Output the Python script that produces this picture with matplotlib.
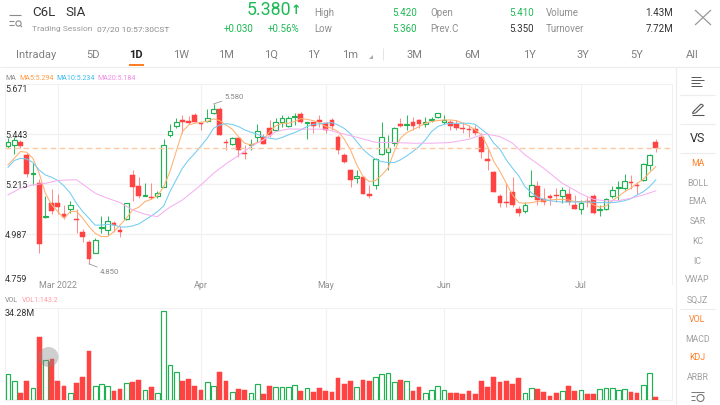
import matplotlib
matplotlib.use("Agg")
import matplotlib.pyplot as plt
from matplotlib.patches import Rectangle, Circle

plt.rcParams['font.family'] = ['Roboto', 'DejaVu Sans']

# ---- data ----
up = [1,1,0,0,1,0,1,0,0,0,1,0,0,0,1,1,1,0,0,1,0,0,1,0,1,1,1,1,
      0,0,0,0,1,1,0,0,1,0,0,1,1,0,0,1,1,1,1,0,1,0,0,0,0,0,0,
      0,1,0,0,1,1,1,1,0,1,0,0,1,1,1,1,0,0,0,0,0,0,0,0,0,0,0,0,
      1,1,0,0,0,0,1,0,0,1,0,0,1,1,1,1,1,0,0,1,1,0]
high = [5.427,5.431,5.416,5.355,5.310,5.237,5.161,5.191,5.170,5.120,5.139,5.100,5.009,4.960,4.968,5.069,5.069,5.048,5.024,5.130,5.279,5.249,5.218,5.218,5.185,5.419,5.489,5.516,
        5.530,5.525,5.538,5.495,5.556,5.580,5.568,5.419,5.428,5.428,5.393,5.419,5.489,5.442,5.507,5.515,5.530,5.525,5.538,5.545,5.500,5.500,5.530,5.500,5.518,5.439,5.355,
        5.282,5.279,5.252,5.211,5.332,5.498,5.437,5.477,5.518,5.530,5.522,5.510,5.519,5.519,5.538,5.530,5.507,5.507,5.497,5.486,5.486,5.446,5.378,5.276,5.170,5.218,5.249,5.115,
        5.135,5.279,5.229,5.196,5.170,5.196,5.200,5.196,5.165,5.142,5.155,5.170,5.120,5.150,5.208,5.229,5.259,5.256,5.226,5.310,5.351,5.419]
low = [5.378,5.351,5.378,5.249,5.211,4.902,5.059,5.079,5.079,5.054,5.085,4.993,4.952,4.851,4.899,4.990,4.983,4.998,4.972,5.051,5.139,5.150,5.161,5.148,5.150,5.200,5.431,5.471,
       5.449,5.489,5.497,5.459,5.497,5.532,5.440,5.370,5.395,5.340,5.329,5.370,5.408,5.398,5.428,5.456,5.477,5.477,5.484,5.492,5.419,5.449,5.477,5.449,5.459,5.351,5.310,
       5.200,5.218,5.170,5.150,5.191,5.348,5.279,5.389,5.477,5.459,5.459,5.469,5.477,5.497,5.516,5.489,5.459,5.459,5.446,5.428,5.439,5.332,5.279,5.180,5.112,5.112,5.112,5.069,
       5.082,5.155,5.120,5.120,5.120,5.135,5.130,5.120,5.100,5.079,5.109,5.079,5.071,5.097,5.150,5.142,5.188,5.193,5.170,5.229,5.279,5.360]
body_top = [5.408,5.416,5.407,5.348,5.267,5.218,5.069,5.127,5.127,5.079,5.118,5.054,4.998,4.949,4.958,5.021,5.048,5.038,5.003,5.127,5.258,5.208,5.167,5.155,5.176,5.395,5.457,5.497,
            5.507,5.503,5.528,5.495,5.518,5.557,5.557,5.408,5.427,5.427,5.355,5.398,5.456,5.428,5.469,5.497,5.518,5.516,5.527,5.535,5.497,5.497,5.506,5.495,5.507,5.428,5.348,
            5.279,5.250,5.249,5.170,5.328,5.428,5.378,5.469,5.489,5.489,5.498,5.509,5.498,5.510,5.538,5.506,5.498,5.489,5.471,5.465,5.468,5.428,5.328,5.269,5.158,5.130,5.179,5.100,
            5.120,5.209,5.208,5.148,5.159,5.167,5.188,5.168,5.120,5.129,5.139,5.158,5.100,5.147,5.188,5.202,5.228,5.223,5.211,5.308,5.348,5.408]
body_bottom = [5.389,5.393,5.390,5.261,5.261,4.942,5.063,5.092,5.112,5.066,5.101,5.051,4.972,4.872,4.902,5.015,5.003,5.030,4.998,5.054,5.200,5.161,5.162,5.150,5.162,5.203,5.440,5.481,
               5.500,5.494,5.500,5.490,5.501,5.538,5.440,5.404,5.398,5.370,5.351,5.393,5.431,5.398,5.439,5.459,5.498,5.480,5.521,5.500,5.492,5.481,5.500,5.462,5.481,5.370,5.317,
               5.231,5.244,5.170,5.161,5.211,5.351,5.360,5.401,5.480,5.486,5.480,5.489,5.489,5.507,5.519,5.500,5.481,5.469,5.466,5.462,5.449,5.361,5.322,5.180,5.130,5.127,5.120,5.082,
               5.092,5.162,5.142,5.132,5.150,5.159,5.162,5.132,5.101,5.103,5.133,5.082,5.095,5.100,5.161,5.199,5.199,5.218,5.208,5.232,5.302,5.381]
volume = [10.05,7.22,2.84,7.35,4.51,24.10,15.47,15.98,7.48,5.41,2.71,6.57,8.89,18.95,5.41,5.93,5.41,3.61,4.38,6.32,7.09,7.73,3.87,5.03,2.71,34.28,13.53,10.83,
          7.35,8.25,5.41,4.00,6.83,5.41,10.83,7.48,3.09,4.25,3.74,2.58,6.06,2.32,5.41,4.77,4.90,4.90,5.67,3.48,4.51,3.22,4.64,3.61,3.22,8.64,6.32,
          7.48,5.03,7.86,7.35,8.89,10.05,10.44,6.96,7.73,7.35,3.61,5.16,2.71,3.87,5.28,3.87,2.84,2.84,2.19,3.61,2.19,7.48,5.03,9.02,6.96,7.35,6.06,8.64,
          2.71,4.64,4.38,3.09,1.68,2.71,3.35,5.41,3.61,3.74,2.32,2.32,4.25,4.64,4.64,3.87,4.12,3.09,2.71,5.80,10.44,1.29]
ma5 = [5.302,5.332,5.363,5.360,5.332,5.264,5.173,5.120,5.089,5.059,5.089,5.091,5.059,5.021,4.990,4.975,4.975,4.998,5.028,5.059,5.097,5.109,5.135,5.145,5.161,5.203,5.272,5.363,
       5.454,5.484,5.492,5.497,5.500,5.512,5.504,5.484,5.465,5.431,5.401,5.393,5.404,5.416,5.454,5.480,5.492,5.492,5.500,5.513,5.510,5.504,5.495,5.477,5.469,5.454,5.419,
       5.370,5.302,5.249,5.226,5.231,5.256,5.287,5.363,5.424,5.449,5.462,5.477,5.492,5.500,5.504,5.507,5.507,5.504,5.492,5.480,5.462,5.439,5.386,5.317,5.272,5.218,5.165,5.130,
       5.127,5.130,5.135,5.138,5.142,5.145,5.145,5.142,5.135,5.135,5.135,5.120,5.109,5.115,5.139,5.158,5.180,5.196,5.218,5.237,5.267,5.294]
ma10 = [5.291,5.322,5.332,5.329,5.313,5.279,5.256,5.246,5.231,5.206,5.173,5.127,5.089,5.059,5.027,5.028,5.031,5.028,5.019,5.019,5.024,5.033,5.051,5.069,5.089,5.115,5.180,5.234,
        5.287,5.325,5.355,5.389,5.424,5.469,5.484,5.490,5.487,5.477,5.462,5.451,5.442,5.431,5.424,5.419,5.427,5.439,5.449,5.462,5.477,5.487,5.489,5.492,5.495,5.484,5.468,
        5.443,5.408,5.373,5.348,5.328,5.317,5.313,5.313,5.325,5.343,5.363,5.386,5.416,5.454,5.477,5.487,5.492,5.492,5.492,5.492,5.487,5.465,5.443,5.401,5.373,5.325,5.287,5.252,
        5.203,5.176,5.155,5.145,5.139,5.135,5.133,5.133,5.133,5.133,5.133,5.132,5.130,5.130,5.130,5.133,5.139,5.148,5.165,5.180,5.203,5.234]
ma20_idx = [0,2,4,6,8,10,11,12,14,16,18,20,22,24,25,26,28,31,33,35,37,39,41,43,45,47,49,51,53,56,59,62,65,68,71,74,76,77,79,81,83,86,89,92,94,96,98,100,102,104]
ma20 = [5.165,5.196,5.211,5.218,5.231,5.234,5.234,5.214,5.173,5.150,5.130,5.097,5.077,5.066,5.089,5.109,5.142,5.211,5.264,5.307,5.345,5.386,5.416,5.454,5.466,5.465,5.465,5.465,5.449,5.428,5.405,5.404,5.401,5.401,5.404,5.419,5.439,5.442,5.431,5.401,5.348,5.287,5.218,5.170,5.145,5.138,5.139,5.150,5.165,5.184]
last_price = 5.379
price_ticks = [5.671, 5.443, 5.215, 4.987, 4.759]
month_idx = [8, 31, 51, 70, 92]
month_labels = ["Mar 2022", "Apr", "May", "Jun", "Jul"]
extreme_labels = [(33, 5.580, "5.580", 11, 7), (13, 4.851, "4.850", 11, -8)]
idx = list(range(len(high)))

GREEN, RED = "#1fb152", "#ff4343"
GRID = "#f1f1f1"
W, H = 720, 405
fig = plt.figure(figsize=(7.2, 4.05), dpi=100, facecolor="white")

def px_axes(x0, y0, x1, y1):
    return fig.add_axes([x0 / W, 1 - y1 / H, (x1 - x0) / W, (y1 - y0) / H])

ax = px_axes(5, 84, 672, 284)
vx = px_axes(5, 307.5, 672, 400)
XL = (-0.48, 106.6)
for a in (ax, vx):
    a.set_xlim(*XL)
    a.set_xticks([]); a.set_yticks([])
    for s in a.spines.values():
        s.set_color(GRID); s.set_linewidth(0.8)
    for m in month_idx:
        a.axvline(m, color=GRID, lw=0.8, zorder=0)
ax.spines['bottom'].set_visible(False)
ax.set_ylim(4.759, 5.671)
vx.set_ylim(0, 34.28 * 92.5 / 89)
for p in price_ticks[1:-1]:
    ax.axhline(p, color=GRID, lw=1.0, zorder=0)

BW = 0.76
for i in idx:
    c = GREEN if up[i] else RED
    ax.plot([i, i], [low[i], high[i]], color=c, lw=0.75, zorder=2, solid_capstyle='butt', alpha=0.9 if up[i] else 0.6)
    h = max(body_top[i] - body_bottom[i], 0.004)
    if up[i]:
        ax.add_patch(Rectangle((i - BW / 2, body_bottom[i]), BW, h, fc="white", ec=c, lw=0.85, zorder=3))
        vx.add_patch(Rectangle((i - BW / 2, 0.1), BW, volume[i], fc="white", ec=c, lw=0.85, zorder=3))
    else:
        ax.add_patch(Rectangle((i - BW / 2, body_bottom[i]), BW, h, fc=c, ec=c, lw=0.35, zorder=3))
        vx.add_patch(Rectangle((i - BW / 2, 0), BW, volume[i], fc=c, ec=c, lw=0.35, zorder=3))

ax.plot(idx, ma5, color="#ffb06e", lw=0.75, zorder=4)
ax.plot(idx, ma10, color="#73ccf2", lw=0.75, zorder=4)
ax.plot(ma20_idx, ma20, color="#f5b0f0", lw=0.75, zorder=4)
ax.axhline(last_price, color="#fbc9a3", lw=1.0, ls=(0, (4, 2.5)), zorder=5)

for i, val, label, dx, dy in extreme_labels:
    ax.annotate(label, xy=(i, val), xytext=(dx * .72, dy * .72),
                textcoords="offset points", fontsize=5.6, color="#8a8a8a", va="center", ha="left",
                arrowprops=dict(arrowstyle="-", color="#999999", lw=0.6, shrinkA=0, shrinkB=0), zorder=6)

# overlay in pixel coordinates for the app chrome
o = fig.add_axes([0, 0, 1, 1], facecolor="none")
o.set_xlim(0, W); o.set_ylim(H, 0); o.axis("off")

def T(x, y, s, size=7, color="#8c8c8c", ha="left", weight="normal"):
    o.text(x, y, s, fontsize=size, color=color, ha=ha, va="center", fontweight=weight)

DK = "#333333"; GY = "#8f8f8f"; G2 = "#1db954"; OR = "#ff7f27"

# y tick labels / x labels
for p, y in zip(price_ticks, [89.5, 135, 185, 235, 280]):
    T(5, y, f"{p:.3f}", 6.4, DK)
for m, s in zip(month_idx, month_labels):
    T(8 + 6.23 * m, 285, s, 6.4, GY, ha="center")

# header
T(32, 13, "C6L", 9.6, DK); T(65, 13, "SIA", 9.6, DK)
T(32, 29.5, "Trading Session", 6.0, "#9a9a9a"); T(97, 29.5, "07/20 10:57:30CST", 6.0, "#8a8a8a")
T(247, 10, "5.380", 12.8, G2)
o.text(296, 11, "↑", fontsize=9, color=G2, ha="center", va="center", family="DejaVu Sans", fontweight="bold")
T(224, 28.5, "+0.030", 7, G2); T(268, 28.5, "+0.56%", 7, G2)
for x, y, s in [(314, 13, "High"), (314, 28.5, "Low"), (430, 13, "Open"), (430, 28.5, "Prev.C"), (546, 13, "Volume"), (546, 28.5, "Turnover")]:
    T(x, y, s, 7, GY)
T(392, 13, "5.420", 7, G2); T(392, 28.5, "5.360", 7, G2); T(509, 13, "5.410", 7, G2); T(509, 28.5, "5.350", 7, DK)
T(673, 13, "1.43M", 7, DK, ha="right"); T(673, 28.5, "7.72M", 7, DK, ha="right")

# icons
def L(x0, y0, x1, y1, c="#8a8a8a", lw=0.8):
    o.plot([x0, x1], [y0, y1], color=c, lw=lw, solid_capstyle="butt")
L(9, 15, 21, 15); L(9, 21, 14, 21); L(9, 25, 14, 25)
o.add_patch(Circle((18.5, 23.5), 2.6, fc="none", ec="#8a8a8a", lw=0.8)); L(20.5, 25.5, 22, 27)
L(695, 10, 711, 25, "#999999", 0.9); L(711, 10, 695, 25, "#999999", 0.9)

# tabs
for x, s in [(36, "Intraday"), (93, "5D"), (181, "1W"), (226, "1M"), (271, "1Q"), (313, "1Y"), (350, "1m"), (414, "3M"), (472, "6M"), (529, "1Y"), (583, "3Y"), (637, "5Y"), (692, "All")]:
    T(x, 54.5, s, 8, "#808080", ha="center")
T(136, 54.5, "1D", 8, "#222222", ha="center", weight="bold")
o.add_patch(Rectangle((129, 64), 14.5, 2, fc=OR, ec="none"))
o.fill([369, 372.5, 372.5], [58.5, 58.5, 55], color="#aaaaaa", lw=0)
L(382.5, 48, 382.5, 60, "#e4e4e4", 0.7)
L(0, 66.5, 720, 66.5, "#ececec", 0.8)

# legends
T(5, 78, "MA", 5.1, "#8a8a8a"); T(19, 78, "MA5:5.294", 5.1, "#ff9c45")
T(56, 78, "MA10:5.234", 5.1, "#3cbdf2"); T(97, 78, "MA20:5.184", 5.1, "#f08ce6")
T(5, 301, "VOL", 5.1, "#8a8a8a"); T(22, 301, "VOL1:143.2", 5.1, "#ff9aa2")
T(5, 313, "34.28M", 6.4, DK)

# press marker
o.add_patch(Circle((48.5, 357), 10, fc="#888888", ec="none", alpha=0.4, zorder=8))
L(48.5, 353, 48.5, 361, "white", 0.7); L(44.5, 357, 52.5, 357, "white", 0.7)

# side panel
L(675.5, 66.5, 675.5, 405, "#ececec", 0.8)
for y in [95, 124, 153, 309]:
    L(680, y, 715, y, "#ececec", 0.8)
for y, x1 in [(76.5, 701), (79.5, 704), (82.5, 700), (85.5, 702)]:
    L(691, y, x1, y, "#555555", 0.7)
L(692, 115, 704, 115, "#555555", 0.8); L(693, 112, 701, 104, "#555555", 0.8); L(695.5, 113, 703.5, 105.5, "#555555", 0.8)
L(701, 104, 703.5, 105.5, "#555555", 0.8); L(693, 112, 692.5, 113.5, "#555555", 0.8); L(695.5, 113, 692.5, 113.5, "#555555", 0.8)
T(697.5, 138, "VS", 9, DK, ha="center")
for y, s, c in [(163.5, "MA", OR), (183, "BOLL", "#a0a0a0"), (202, "EMA", "#a0a0a0"), (222, "SAR", "#a0a0a0"), (241, "KC", "#a0a0a0"), (261, "IC", "#a0a0a0"),
                (280, "VWAP", "#a0a0a0"), (300, "SQJZ", "#a0a0a0"), (320, "VOL", OR), (339, "MACD", "#a0a0a0"), (358, "KDJ", OR), (378, "ARBR", "#a0a0a0")]:
    T(697.5, y, s, 6.3, c, ha="center")
L(691, 391.5, 704, 391.5, "#777777", 0.7); L(691, 396, 695, 396, "#777777", 0.7); L(691, 400, 695, 400, "#777777", 0.7)
o.add_patch(Circle((700.5, 398), 3.5, fc="none", ec="#777777", lw=0.8))

fig.savefig("out.png", dpi=100, facecolor="white")
